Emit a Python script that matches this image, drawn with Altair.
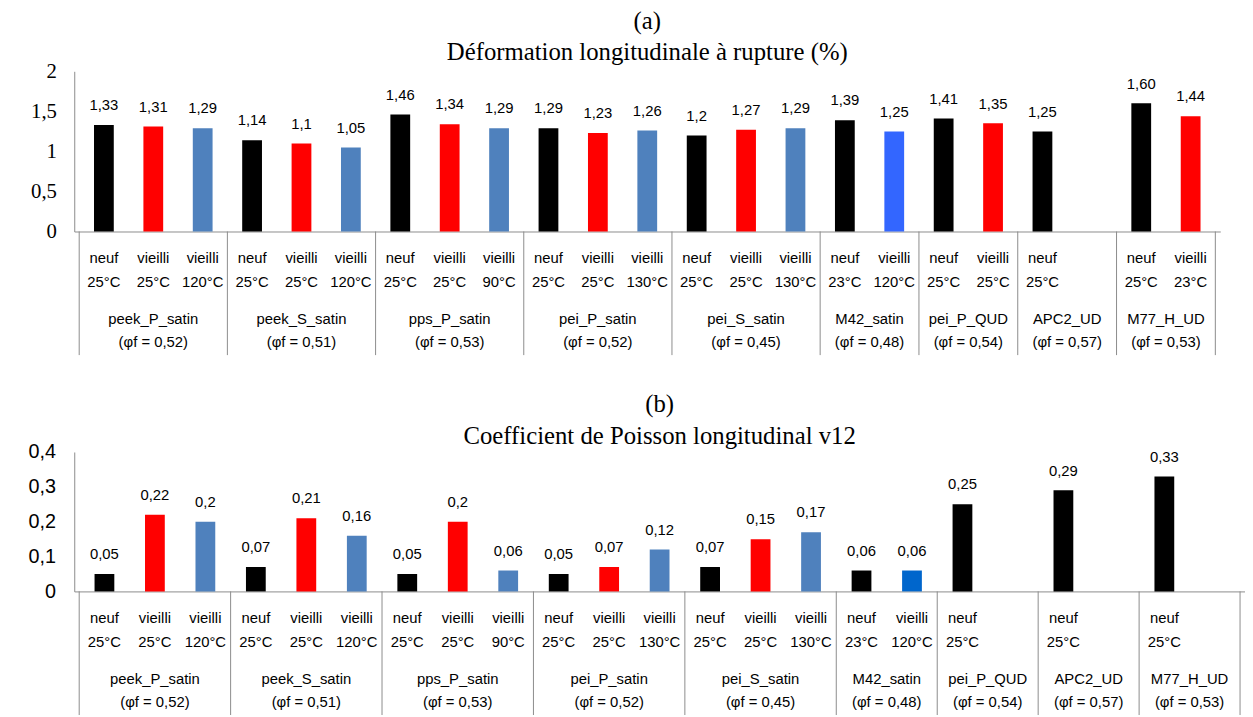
import altair as alt
import pandas as pd

SANS = "Liberation Sans"
SERIF = "Liberation Serif"
GRAY = "#8c8c8c"

groups = ["peek_P_satin", "peek_S_satin", "pps_P_satin", "pei_P_satin", "pei_S_satin",
          "M42_satin", "pei_P_QUD", "APC2_UD", "M77_H_UD"]
fractions = ["(φf = 0,52)", "(φf = 0,51)", "(φf = 0,53)", "(φf = 0,52)", "(φf = 0,45)",
             "(φf = 0,48)", "(φf = 0,54)", "(φf = 0,57)", "(φf = 0,53)"]
group_slots = [3, 3, 3, 3, 3, 2, 2, 2, 2]

# ---- (a) Déformation longitudinale à rupture (%)
a_group = [0, 0, 0, 1, 1, 1, 2, 2, 2, 3, 3, 3, 4, 4, 4, 5, 5, 6, 6, 7, 8, 8]
a_pos = [0, 1, 2, 0, 1, 2, 0, 1, 2, 0, 1, 2, 0, 1, 2, 0, 1, 0, 1, 0, 0, 1]
a_state = ["neuf", "vieilli", "vieilli", "neuf", "vieilli", "vieilli", "neuf", "vieilli", "vieilli",
           "neuf", "vieilli", "vieilli", "neuf", "vieilli", "vieilli", "neuf", "vieilli",
           "neuf", "vieilli", "neuf", "neuf", "vieilli"]
a_temp = ["25°C", "25°C", "120°C", "25°C", "25°C", "120°C", "25°C", "25°C", "90°C",
          "25°C", "25°C", "130°C", "25°C", "25°C", "130°C", "23°C", "120°C",
          "25°C", "25°C", "25°C", "25°C", "23°C"]
a_kind = ["neuf", "vieilli", "chaud", "neuf", "vieilli", "chaud", "neuf", "vieilli", "chaud",
          "neuf", "vieilli", "chaud", "neuf", "vieilli", "chaud", "neuf", "chaud2",
          "neuf", "vieilli", "neuf", "neuf", "vieilli"]
a_values = [1.33, 1.31, 1.29, 1.14, 1.10, 1.05, 1.46, 1.34, 1.29, 1.29, 1.23, 1.26,
            1.20, 1.27, 1.29, 1.39, 1.25, 1.41, 1.35, 1.25, 1.60, 1.44]
a_labels = ["1,33", "1,31", "1,29", "1,14", "1,1", "1,05", "1,46", "1,34", "1,29", "1,29", "1,23", "1,26",
            "1,2", "1,27", "1,29", "1,39", "1,25", "1,41", "1,35", "1,25", "1,60", "1,44"]

# ---- (b) Coefficient de Poisson longitudinal v12
b_group = [0, 0, 0, 1, 1, 1, 2, 2, 2, 3, 3, 3, 4, 4, 4, 5, 5, 6, 7, 8]
b_pos = [0, 1, 2, 0, 1, 2, 0, 1, 2, 0, 1, 2, 0, 1, 2, 0, 1, 0, 0, 0]
b_state = ["neuf", "vieilli", "vieilli", "neuf", "vieilli", "vieilli", "neuf", "vieilli", "vieilli",
           "neuf", "vieilli", "vieilli", "neuf", "vieilli", "vieilli", "neuf", "vieilli",
           "neuf", "neuf", "neuf"]
b_temp = ["25°C", "25°C", "120°C", "25°C", "25°C", "120°C", "25°C", "25°C", "90°C",
          "25°C", "25°C", "130°C", "25°C", "25°C", "130°C", "23°C", "120°C",
          "25°C", "25°C", "25°C"]
b_kind = ["neuf", "vieilli", "chaud", "neuf", "vieilli", "chaud", "neuf", "vieilli", "chaud",
          "neuf", "vieilli", "chaud", "neuf", "vieilli", "chaud", "neuf", "chaud2",
          "neuf", "neuf", "neuf"]
b_values = [0.05, 0.22, 0.20, 0.07, 0.21, 0.16, 0.05, 0.20, 0.06, 0.05, 0.07, 0.12,
            0.07, 0.15, 0.17, 0.06, 0.06, 0.25, 0.29, 0.33]
b_labels = ["0,05", "0,22", "0,2", "0,07", "0,21", "0,16", "0,05", "0,2", "0,06", "0,05", "0,07", "0,12",
            "0,07", "0,15", "0,17", "0,06", "0,06", "0,25", "0,29", "0,33"]

offsets = [sum(group_slots[:i]) for i in range(len(group_slots))]
n_slots = sum(group_slots)
boundaries = offsets + [n_slots]


def panel(title, grp, pos, state, temp, kind, vals, labs, ymax, yticks, width, height,
          lab_font, lab_size, lab_pad, m42_color, ytitle_size, ytitle_pad, rule_len, toffset):
    df = pd.DataFrame({
        "x": [offsets[g] + p + 0.5 for g, p in zip(grp, pos)],
        "v": vals, "lab": labs, "state": state, "temp": temp, "kind": kind,
    })
    gdf = pd.DataFrame({
        "x": [offsets[i] + group_slots[i] / 2 for i in range(len(groups))],
        "g": groups, "f": fractions,
    })
    rdf = pd.DataFrame({"x": boundaries})

    xsc = alt.Scale(domain=[0, n_slots], nice=False, zero=False)
    xax = alt.Axis(labels=False, ticks=False, grid=False, title=None, domainColor=GRAY)
    ysc = alt.Scale(domain=[0, ymax], nice=False)
    yax = alt.Axis(values=yticks, labelExpr="replace(format(datum.value, '~g'), '.', ',')",
                   ticks=False, grid=False, domainColor=GRAY, labelFont=lab_font,
                   labelFontSize=lab_size, labelPadding=lab_pad, labelColor="black",
                   labelOverlap=False, labelFlush=False,
                   title=" ", titleFontSize=ytitle_size, titlePadding=ytitle_pad)
    X = alt.X("x:Q", scale=xsc, axis=xax)
    Y = alt.Y("v:Q", scale=ysc, axis=yax)

    base = alt.Chart(df)
    bars = base.mark_bar(size=20).encode(
        x=X, y=Y,
        color=alt.Color("kind:N", legend=None,
                        scale=alt.Scale(domain=["neuf", "vieilli", "chaud", "chaud2"],
                                        range=["#000000", "#ff0000", "#4f81bd", m42_color])),
    )
    vtext = base.mark_text(baseline="middle", dy=-20, font=SANS, fontSize=15, color="black").encode(
        x=X, y=Y, text="lab:N")
    s_text = base.mark_text(baseline="middle", font=SANS, fontSize=15, color="black").encode(
        x=X, y=alt.value(height + 27), text="state:N")
    t_text = base.mark_text(baseline="middle", font=SANS, fontSize=15, color="black").encode(
        x=X, y=alt.value(height + 51), text="temp:N")
    g_text = alt.Chart(gdf).mark_text(baseline="middle", font=SANS, fontSize=15, color="black").encode(
        x=X, y=alt.value(height + 89), text="g:N")
    f_text = alt.Chart(gdf).mark_text(baseline="middle", font=SANS, fontSize=15, color="black").encode(
        x=X, y=alt.value(height + 112), text="f:N")
    rules = alt.Chart(rdf).mark_rule(color=GRAY, strokeWidth=1).encode(
        x=X, y=alt.value(height), y2=alt.value(height + rule_len))

    return alt.layer(bars, vtext, s_text, t_text, g_text, f_text, rules).properties(
        width=width, height=height,
        title=alt.TitleParams(text=title, font=SERIF, fontSize=25, fontWeight="normal",
                              lineHeight=32, anchor="middle", color="black", offset=toffset),
    )


pa = panel(["(a)", "Déformation longitudinale à rupture (%)"], a_group, a_pos, a_state, a_temp, a_kind,
           a_values, a_labels, 2, [0, 0.5, 1, 1.5, 2], 1159, 162, SERIF, 21, 18, "#3366ff", 10, 3, 125, -5)
pb = panel(["(b)", "Coefficient de Poisson longitudinal v12"], b_group, b_pos, b_state, b_temp, b_kind,
           b_values, b_labels, 0.4, [0, 0.1, 0.2, 0.3, 0.4], 1184, 141, SANS, 20, 19, "#0066cc", 1, 0, 125, -7)

chart = alt.concat(pa, pb, columns=1, spacing=37).properties(
    align="none",
    padding={"left": 9, "top": -3, "right": 0, "bottom": 0},
).resolve_scale(x="independent", y="independent", color="independent").configure_view(stroke=None)

chart.save("out.html", embed_options={"renderer": "svg", "actions": False})
